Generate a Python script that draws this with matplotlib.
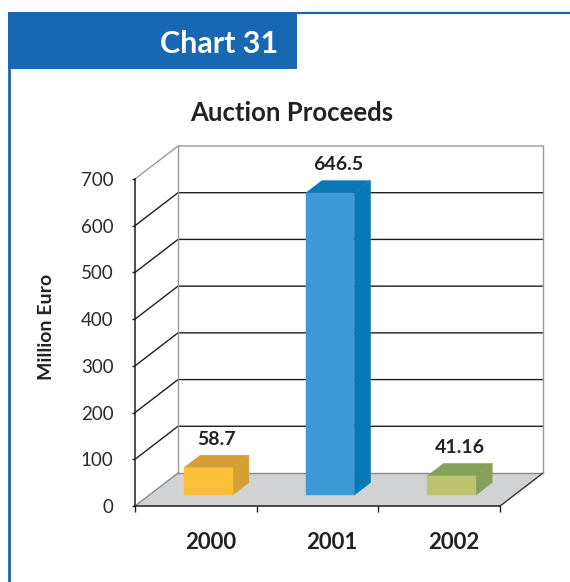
import matplotlib
matplotlib.use("Agg")
import matplotlib.pyplot as plt
from matplotlib.patches import Polygon, Rectangle
from matplotlib.lines import Line2D

# ---- data ----
categories = ["2000", "2001", "2002"]
values = [58.7, 646.5, 41.16]
value_labels = ["58.7", "646.5", "41.16"]
y_ticks = [0, 100, 200, 300, 400, 500, 600, 700]
front_colors = ["#FDBE3A", "#3E9AD6", "#BCC46F"]
dark_colors = ["#D4A033", "#0A78B5", "#88A15A"]

title = "Auction Proceeds"
header = "Chart 31"
ylabel = "Million Euro"

# ---- style / geometry ----
W, H = 570, 582
PX_X = 121.7          # pixels per category unit
PX_V = 327 / 700      # pixels per value unit
X0_PX, V0_PX = 135, 506
DX = 43 / PX_X        # depth offset in x data units (full depth)
DY = 33 / PX_V        # depth offset in value units (full depth)
F0, F1 = 0.33, 0.71   # bar depth span
BAR_W = 0.40
BAR_C = 0.485
FONT = "Lato"

plt.rcParams['font.family'] = [FONT, 'DejaVu Sans']

fig = plt.figure(figsize=(W / 100, H / 100), dpi=100)
fig.patch.set_facecolor("white")
ax = fig.add_axes([0, 0, 1, 1])
ax.set_facecolor("none")
ax.set_xlim(-X0_PX / PX_X, (W - X0_PX) / PX_X)
ax.set_ylim(-(H - V0_PX) / PX_V, V0_PX / PX_V)

n = len(categories)
ymax = y_ticks[-1]


def P(x, v, d):
    return (x + d * DX, v + d * DY)


# floor
ax.add_patch(Polygon([P(0, 0, 0), P(n, 0, 0), P(n, 0, 1), P(0, 0, 1)],
                     closed=True, facecolor="#D1D2D4", edgecolor="none", zorder=1))
# floor edges
for (a, b, c) in [((0, 0, 0), (0, 0, 1), "#8A8A8A"),
                  ((0, 0, 1), (n, 0, 1), "#8A8A8A"),
                  ((n, 0, 0), (n, 0, 1), "#333333")]:
    p1, p2 = P(*a), P(*b)
    ax.plot([p1[0], p2[0]], [p1[1], p2[1]], color=c, lw=1.0, zorder=1.5)

# gridlines on left wall + back wall
for t in y_ticks[1:]:
    col = "#9A9A9A" if t == ymax else "#1E1E1E"
    pts = [P(0, t, 0), P(0, t, 1), P(n, t, 1)]
    ax.plot([p[0] for p in pts], [p[1] for p in pts], color=col, lw=1.0, zorder=1.5)
# back wall verticals
for xx in [0, n]:
    p1, p2 = P(xx, 0, 1), P(xx, ymax, 1)
    ax.plot([p1[0], p2[0]], [p1[1], p2[1]], color="#9A9A9A", lw=1.0, zorder=1.5)

# bars
for i, (v, fc, dc, lab) in enumerate(zip(values, front_colors, dark_colors, value_labels)):
    x0 = i + BAR_C - BAR_W / 2
    x1 = i + BAR_C + BAR_W / 2
    front = [P(x0, 0, F0), P(x1, 0, F0), P(x1, v, F0), P(x0, v, F0)]
    top = [P(x0, v, F0), P(x1, v, F0), P(x1, v, F1), P(x0, v, F1)]
    side = [P(x1, 0, F0), P(x1, v, F0), P(x1, v, F1), P(x1, 0, F1)]
    ax.add_patch(Polygon(side, closed=True, facecolor=dc, edgecolor=dc, lw=0.3, zorder=3))
    ax.add_patch(Polygon(top, closed=True, facecolor=dc, edgecolor=dc, lw=0.3, zorder=3))
    ax.add_patch(Polygon(front, closed=True, facecolor=fc, edgecolor=fc, lw=0.3, zorder=4))
    lx, _ = P(i + BAR_C, v, (F0 + F1) / 2)
    _, ly = P(0, v, F1)
    ax.annotate(lab, xy=(lx, ly), xytext=(0, 5.5), textcoords="offset points",
                ha="center", va="bottom", fontsize=14, fontweight="bold",
                color="#222222", zorder=6)

# axes spines / ticks
for s in ["top", "right"]:
    ax.spines[s].set_visible(False)
ax.spines["left"].set_position(("data", 0))
ax.spines["left"].set_bounds(0, ymax)
ax.spines["bottom"].set_position(("data", 0))
ax.spines["bottom"].set_bounds(0, n)
for s in ["left", "bottom"]:
    ax.spines[s].set_color("#1E1E1E")
    ax.spines[s].set_linewidth(1.1)

ax.set_yticks(y_ticks)
ax.set_yticklabels([str(t) for t in y_ticks])
ax.tick_params(axis="y", direction="out", length=2.5, width=1.0, color="#1E1E1E",
               pad=13, labelsize=13.5, labelcolor="#2A2A2A")
ax.set_xticks(list(range(n + 1)))
ax.set_xticklabels([""] * (n + 1))
ax.tick_params(axis="x", which="major", direction="out", length=4, width=1.0, color="#1E1E1E")
ax.set_xticks([i + 0.5 + 0.12 for i in range(n)], minor=True)
ax.set_xticklabels(categories, minor=True, fontsize=16, fontweight="bold", color="#222222")
ax.tick_params(axis="x", which="minor", length=0, pad=19)

# y label
fig.text(47 / W, 1 - 327 / H, ylabel, rotation=90, ha="center", va="center",
         fontsize=14, fontweight="bold", color="#222222")

# title
fig.text(292 / W, 1 - 113 / H, title, ha="center", va="center",
         fontsize=18.5, fontweight="bold", color="#222222")

# header box and frame lines
fig.patches.append(Rectangle((8 / W, 1 - 69 / H), (297 - 8) / W, 57 / H,
                             transform=fig.transFigure, facecolor="#1767B3",
                             edgecolor="none", zorder=0))
fig.lines.append(Line2D([297 / W, 1], [1 - 13 / H, 1 - 13 / H], transform=fig.transFigure,
                        color="#1767B3", lw=1.6))
fig.lines.append(Line2D([9.3 / W, 9.3 / W], [0, 1 - 69 / H], transform=fig.transFigure,
                        color="#1767B3", lw=2.0))
fig.text(278 / W, 1 - 44 / H, header, ha="right", va="center",
         fontsize=22, fontweight="bold", color="white")

fig.savefig("out.png", dpi=100, facecolor="white")
